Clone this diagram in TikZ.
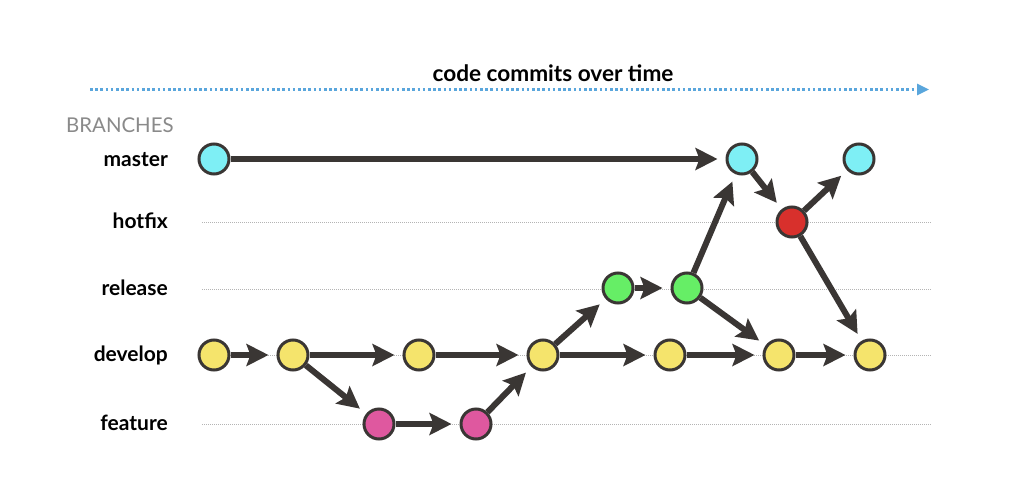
\documentclass[tikz,border=0pt]{standalone}
\usepackage{fontspec}
\setmainfont{Lato}
\usetikzlibrary{arrows.meta}
\definecolor{edge}{HTML}{3A3634}
\definecolor{cyanc}{HTML}{7EEFF5}
\definecolor{yellowc}{HTML}{F5E46C}
\definecolor{pinkc}{HTML}{DF589F}
\definecolor{greenc}{HTML}{66EE66}
\definecolor{redc}{HTML}{D8302C}
\definecolor{timeblue}{HTML}{5AA6DC}
\definecolor{gridgray}{HTML}{B4B4B4}
\definecolor{branchgray}{HTML}{8A8A8A}
\tikzset{
  commit/.style={circle, minimum size=30pt, inner sep=0pt, line width=3pt, draw=edge},
  cmaster/.style={commit, fill=cyanc},
  cdevelop/.style={commit, fill=yellowc},
  cfeature/.style={commit, fill=pinkc},
  crelease/.style={commit, fill=greenc},
  chotfix/.style={commit, fill=redc},
  arr/.style={draw=edge, line width=6pt, shorten >=8pt,
    -{Stealth[length=22pt, width=22pt, inset=4pt]}},
  gridline/.style={draw=gridgray, line width=0.7pt, dash pattern=on 1pt off 1pt},
  lbl/.style={anchor=base east, font=\fontsize{21}{24}\selectfont\bfseries, text=black, inner sep=0pt},
}
\begin{document}
\begin{tikzpicture}[x=1pt, y=-1pt]
\useasboundingbox[fill=white] (0,0) rectangle (1024,500);
% time axis
\coordinate (t0) at (90,89.5);
\coordinate (t1) at (929,89.5);
\draw[draw=timeblue, line width=2.6pt, dash pattern=on 2.6pt off 2.6pt,
  -{Triangle[length=12pt, width=11pt]}] (t0) -- (t1);
\node[anchor=base, font=\fontsize{22.6}{26}\selectfont\bfseries, inner sep=0pt] (title) at (553,81.5) {code commits over time};
\node[anchor=base west, font=\fontsize{20.4}{24}\selectfont, text=branchgray, inner sep=0pt] (branches) at (66,132) {BRANCHES};
% grid lines
\coordinate (gh0) at (202,222); \coordinate (gh1) at (932,222);
\coordinate (gr0) at (202,289); \coordinate (gr1) at (932,289);
\coordinate (gd0) at (202,355); \coordinate (gd1) at (932,355);
\coordinate (gf0) at (202,424); \coordinate (gf1) at (932,424);
\draw[gridline] (gh0) -- (gh1);
\draw[gridline] (gr0) -- (gr1);
\draw[gridline] (gd0) -- (gd1);
\draw[gridline] (gf0) -- (gf1);
% labels
\node[lbl] (lm) at (168,166) {master};
\node[lbl] (lh) at (168,228) {hotfix};
\node[lbl] (lr) at (168,295) {release};
\node[lbl] (ld) at (168,361) {develop};
\node[lbl] (lf) at (168,430) {feature};
% commits
\node[cmaster] (m1) at (214,159) {};
\node[cmaster] (m2) at (742,159) {};
\node[cmaster] (m3) at (859,159) {};
\node[chotfix] (h1) at (792,222) {};
\node[crelease] (r1) at (618,288) {};
\node[crelease] (r2) at (687,288) {};
\node[cdevelop] (d1) at (214,355) {};
\node[cdevelop] (d2) at (293,355) {};
\node[cdevelop] (d3) at (419,355) {};
\node[cdevelop] (d4) at (543,355) {};
\node[cdevelop] (d5) at (670,355) {};
\node[cdevelop] (d6) at (779,355) {};
\node[cdevelop] (d7) at (870,355) {};
\node[cfeature] (f1) at (379,424) {};
\node[cfeature] (f2) at (476,424) {};
% connectors
\draw[arr] (m1) -- (m2);
\draw[arr] (m2) -- (h1);
\draw[arr] (h1) -- (m3);
\draw[arr] (h1) -- (d7);
\draw[arr] (r1) -- (r2);
\draw[arr] (r2) -- (m2);
\draw[arr] (r2) -- (d6);
\draw[arr] (d1) -- (d2);
\draw[arr] (d2) -- (d3);
\draw[arr] (d2) -- (f1);
\draw[arr] (d3) -- (d4);
\draw[arr] (d4) -- (r1);
\draw[arr] (d4) -- (d5);
\draw[arr] (d5) -- (d6);
\draw[arr] (d6) -- (d7);
\draw[arr] (f1) -- (f2);
\draw[arr] (f2) -- (d4);
\end{tikzpicture}
\end{document}
